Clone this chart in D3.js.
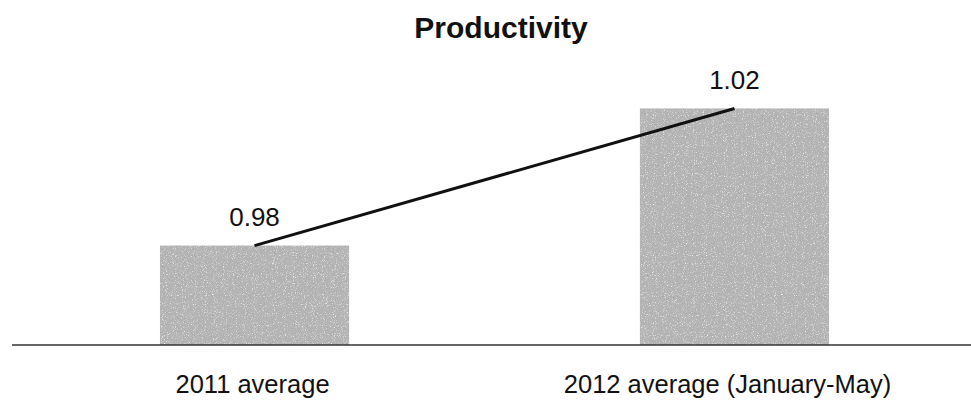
<!DOCTYPE html>
<html>
<head>
<meta charset="utf-8">
<script src="https://cdn.jsdelivr.net/npm/d3@7/dist/d3.min.js"></script>
<style>
  html, body { margin: 0; padding: 0; background: #fff; }
  svg { display: block; }
  text { font-family: "Liberation Sans", Arial, Helvetica, sans-serif; fill: #111; }
</style>
</head>
<body>
<svg id="chart" width="971" height="404"></svg>
<script>
const title = "Productivity";
const categories = ["2011 average", "2012 average (January-May)"];
const values = [0.98, 1.02];
const valueLabels = ["0.98", "1.02"];

const W = 971, H = 404;
const svg = d3.select("#chart");

const defs = svg.append("defs");
const f = defs.append("filter").attr("id", "grain").attr("x", 0).attr("y", 0).attr("width", 1).attr("height", 1);
f.append("feTurbulence").attr("type", "fractalNoise").attr("baseFrequency", 0.9).attr("numOctaves", 2).attr("seed", 7).attr("result", "noise");
f.append("feColorMatrix").attr("in", "noise").attr("type", "matrix")
  .attr("values", "0 0 0 0 0.4  0 0 0 0 0.4  0 0 0 0 0.4  2.6 0 0 0 -1.05").attr("result", "dark");
f.append("feColorMatrix").attr("in", "noise").attr("type", "matrix")
  .attr("values", "0 0 0 0 1  0 0 0 0 1  0 0 0 0 1  0 -2.6 0 0 1.1").attr("result", "light");
f.append("feComposite").attr("in", "dark").attr("in2", "SourceGraphic").attr("operator", "in").attr("result", "darkIn");
f.append("feComposite").attr("in", "light").attr("in2", "SourceGraphic").attr("operator", "in").attr("result", "lightIn");
const m = f.append("feMerge");
m.append("feMergeNode").attr("in", "SourceGraphic");
m.append("feMergeNode").attr("in", "darkIn");
m.append("feMergeNode").attr("in", "lightIn");

const x = d3.scaleBand()
  .domain(categories)
  .range([16, 973])
  .paddingInner(0.606)
  .paddingOuter(0.3);

const y = d3.scaleLinear()
  .domain([0.951, 1.02])
  .range([345, 108.5]);

const data = categories.map((c, i) => ({ cat: c, value: values[i], label: valueLabels[i] }));

// Title
svg.append("text")
  .attr("x", 501).attr("y", 38)
  .attr("text-anchor", "middle")
  .style("font-size", "30px").style("font-weight", "bold")
  .text(title);

// Bars
svg.selectAll("rect.bar").data(data).enter().append("rect")
  .attr("class", "bar")
  .attr("x", d => x(d.cat))
  .attr("width", x.bandwidth())
  .attr("y", d => y(d.value))
  .attr("height", d => y.range()[0] - y(d.value))
  .attr("fill", "#b8b8b8")
  .attr("filter", "url(#grain)");

// Baseline axis
const axis = d3.axisBottom(x).tickSize(0).tickPadding(0);
const gAxis = svg.append("g").attr("transform", `translate(0,${y.range()[0]})`).call(axis);
gAxis.select(".domain").remove();
gAxis.append("line")
  .attr("x1", 12).attr("x2", W)
  .attr("stroke", "#333").attr("stroke-width", 1.5);
gAxis.selectAll(".tick text")
  .attr("y", 48)
  .attr("dy", 0)
  .attr("dx", (d, i) => i === 0 ? -2 : -7)
  .style("font-size", "25.5px")
  .style("font-family", '"Liberation Sans", Arial, sans-serif')
  .attr("fill", "#111");

// Connecting line
const line = d3.line()
  .x(d => x(d.cat) + x.bandwidth() / 2)
  .y(d => y(d.value));
svg.append("path")
  .datum(data)
  .attr("d", line)
  .attr("fill", "none")
  .attr("stroke", "#111")
  .attr("stroke-width", 3);

// Value labels
svg.selectAll("text.val").data(data).enter().append("text")
  .attr("class", "val")
  .attr("x", d => x(d.cat) + x.bandwidth() / 2)
  .attr("y", d => y(d.value) - 20)
  .attr("text-anchor", "middle")
  .style("font-size", "26px")
  .text(d => d.label);
</script>
</body>
</html>
